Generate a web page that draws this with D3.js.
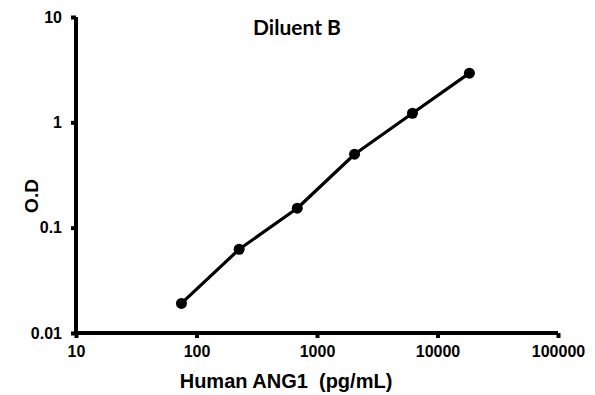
<!DOCTYPE html>
<html>
<head>
<meta charset="utf-8">
<script src="https://cdn.jsdelivr.net/npm/d3@7"></script>
<style>
body{margin:0;background:#fff;}
svg text{font-family:"Liberation Sans",Arial,sans-serif;font-weight:bold;fill:#000;}
</style>
</head>
<body>
<div id="chart"></div>
<script>
// concentration (pg/mL) and O.D
var conc=[75,226,686,2050,6200,18400];
var od=[0.0191,0.0624,0.153,0.498,1.22,2.93];
var xTicks=[10,100,1000,10000,100000];
var yTicks=[0.01,0.1,1,10];

var width=595, height=395;
var margin={top:17,right:37,bottom:62,left:76};

var svg=d3.select("#chart").append("svg")
	.attr("width",width)
	.attr("height",height);

var xScale=d3.scaleLog()
	.domain([10,100000])
	.range([margin.left,width-margin.right]);
var yScale=d3.scaleLog()
	.domain([0.01,10])
	.range([height-margin.bottom,margin.top]);

var xAxis=d3.axisBottom(xScale).tickValues(xTicks).tickFormat(d3.format("d")).tickSize(5).tickPadding(8);
var yAxis=d3.axisLeft(yScale).tickValues(yTicks).tickFormat(function(d){return String(d);}).tickSize(5).tickPadding(9);

var gx=svg.append("g")
	.attr("transform","translate(0,"+(height-margin.bottom)+")")
	.call(xAxis);
var gy=svg.append("g")
	.attr("transform","translate("+margin.left+",0)")
	.call(yAxis);

[gx,gy].forEach(function(g){
	g.select(".domain").style("stroke","#000").style("stroke-width","4px");
	g.selectAll(".tick line").style("stroke","#000").style("stroke-width","4px");
	g.selectAll(".tick text").style("font-size","16px");
});
// domain path without outer ticks
gx.select(".domain").attr("d","M"+(xScale(10)-2)+",0H"+xScale(100000));
gy.select(".domain").attr("d","M0,"+yScale(10)+"V"+(yScale(0.01)+2));

var data=conc.map(function(c,i){return {x:c,y:od[i]};});

var line=d3.line()
	.x(function(d){return xScale(d.x);})
	.y(function(d){return yScale(d.y);});

svg.append("path")
	.datum(data)
	.attr("fill","none")
	.attr("stroke","#000")
	.attr("stroke-width",3.2)
	.attr("stroke-linejoin","round")
	.attr("d",line);

svg.selectAll(".pt")
	.data(data)
	.enter()
	.append("circle")
	.attr("class","pt")
	.attr("cx",function(d){return xScale(d.x);})
	.attr("cy",function(d){return yScale(d.y);})
	.attr("r",5.5)
	.attr("fill","#000");

//title
svg.append("text")
	.attr("x",297)
	.attr("y",35)
	.attr("text-anchor","middle")
	.style("font-family","Lato, 'Open Sans', sans-serif")
	.style("font-size","21px")
	.text("Diluent B");

//axis titles
svg.append("text")
	.attr("x",286)
	.attr("y",388)
	.attr("text-anchor","middle")
	.style("font-size","20px")
	.style("white-space","pre")
	.text("Human ANG1  (pg/mL)");

svg.append("text")
	.attr("transform","translate(38,196) rotate(-90)")
	.attr("text-anchor","middle")
	.style("font-size","19px")
	.text("O.D");
</script>
</body>
</html>
